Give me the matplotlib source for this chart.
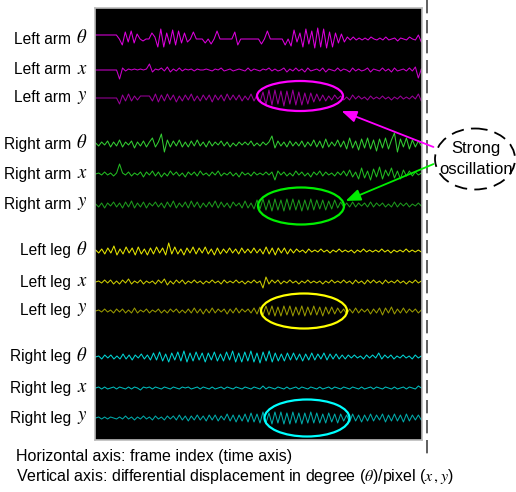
import numpy as np
import matplotlib.pyplot as plt
from matplotlib.patches import Ellipse

plt.rcParams['font.family'] = ['Liberation Sans', 'DejaVu Sans']
plt.rcParams['mathtext.fontset'] = 'stix'

# differential displacement per joint (pixel-ish units)
left_arm_theta = [4, 4, 4, 4, 4, 4, 4, 4, 0, -6, 7, -3, 8, -4, 5, 0, -2, 0, 0, 6, 2, -8, 10, -8, 6, -5, 9, -6, 8, -4,
                  6, -3, 0, 7, 0, 0, 0, -4, 0, -5, 0, 8, 0, 0, 0, 0, 0, 7, -6, 0, 0, 0, 0, 0, 0, 0, -5, 0, 8, 0,
                  0, 0, 0, 0, -6, 0, -7, 9, -3, 6, -8, 10, -5, 8, -9, 11, -8, 10, -9, 7, -8, 6, -4, 5, -3, 2, -1, 2,
                  -1, 1, -1, 1, -1, 2, 0, -1, 1, -1, 2, -1, 0, 1, -2, 1, 0, -1, 2, 0, -1, 4, -3]
left_arm_x = [0, 0, 0, 0, 0, 0, 0, 0, -9, 2, -1, 1, 0, 1, 0, 1, 0, 1, 6, -2, 1, 0, 2, -1, 3, -2, 1, -1, 2, -1,
              1, 0, 1, -1, 1, 0, 0, 1, 0, -1, 1, 0, 2, -1, 0, 1, -1, 0, 1, 0, -1, 2, -1, 1, 0, -1, 1, 0, 2, -1,
              1, -1, 0, 2, -2, 1, -1, 2, -1, 1, -2, 2, -1, 0, 1, -1, 2, -2, 1, 0, -1, 2, -1, 1, 0, -2, 2, -1,
              1, -1, 0, 2, -2, 1, 0, -1, 2, -1, 1, -2, 2, -1, 0, 1, -1, 2, -1, 3, -8, 1]
left_arm_y = [0, 0, 0, 0, 0, 0, 0, 0, -6, 3, -3, 4, -3, 2, -2, 2, 2, 2, 2, -3, 4, -4, 3, -3, 4, -2, 3, -4, 2, -3,
              3, -2, 4, -3, 2, -3, 3, -2, 3, -4, 3, -2, 3, -3, 4, -2, 3, -2, 3, -3, 2, -2, 4, -3, 3, -4, 6, -7,
              8, -7, 8, -6, 7, -8, 7, -6, 8, -7, 6, -7, 5, -6, 5, -4, 4, -3, 3, -3, 2, -2, 3, -1, 2, -2, 1, -2,
              3, -1, 2, -1, 1, -2, 2, -1, 1, -1, 2, -1, 1, -2, 1, -1, 2, -1, 1, -1, 2, -1, 4, -3]
right_arm_theta = [1, -2, 2, -1, 3, -3, 2, -2, 4, -3, 2, -1, 3, -4, 2, -2, 3, -3, 2, 6, -3, 2, 10, -8, 4, -3, 3, -2,
                   4, -3, 2, -3, 3, -2, 4, -2, 2, -3, 3, -2, 2, -1, 3, -2, 2, -3, 1, -2, 2, -1, 2, -1, 3, -2, 1,
                   -2, 2, -1, 2, 8, -4, 3, -2, 2, -3, 3, -2, 2, -2, 3, -3, 2, -2, 4, -3, 3, -4, 5, -3, 2, -2, 4,
                   -3, 3, -5, 6, -4, 3, -6, 5, -4, 6, -5, 4, -7, 5, -4, 6, -5, 4, 11, -8, 5, -3, 6, -5, 4, -3, 3, -2]
right_arm_x = [0, 1, -1, 2, -1, 1, -2, 1, 10, 1, -1, 2, -2, 1, -1, 2, -3, 2, -1, 3, -2, 2, -3, 1, -2, 3, -1, 2,
               -2, 1, -3, 2, -1, 2, -2, 3, -1, 1, -2, 2, -1, 3, -2, 1, -1, 2, -2, 1, -3, 2, -1, 1, -2, 2, -1, 1,
               -1, 2, -1, 2, -6, 3, -1, 2, -2, 1, -2, 3, -1, 2, -2, 1, -3, 2, -1, 3, -2, 2, -1, 1, -2, 2, -1, 3,
               -2, 4, -3, 2, -5, 6, -4, 3, -6, 5, -3, 7, -5, 4, -2, 6, -4, 3, -5, 4, -2, 3, -2, 2, -1, 1]
right_arm_y = [1, -2, 2, -3, 2, -1, 3, -2, 2, -3, 3, -2, 4, -3, 2, -2, 3, -3, 2, -1, 3, -2, 2, -3, 3, -2, 4, -3,
               2, -2, 3, -3, 4, -2, 3, -3, 2, -2, 3, -2, 4, -3, 3, -2, 2, -3, 3, -1, 2, -3, 4, -3, 2, -4, 5, -4,
               6, -5, 5, -6, 6, -5, 5, -6, 6, -5, 6, -5, 5, -6, 5, -5, 6, -5, 5, -4, 5, -5, 4, -4, 5, -3, 3, -2,
               2, -2, 3, -2, 2, -1, 2, -2, 3, -2, 2, -1, 2, -2, 1, -2, 3, -2, 2, -1, 2, -2, 1, -1, 2, -1]
left_leg_theta = [1, -2, 2, -3, 3, -2, 5, -4, 2, -3, 4, -2, 3, -4, 4, -3, 2, -4, 3, -3, 4, -2, 3, -4, 8, -3, 4,
                  -3, 2, -4, 3, -2, 4, -3, 3, -2, 4, -3, 2, -4, 3, -3, 2, -2, 3, -2, 2, -3, 3, -2, 2, -2, 3, -2,
                  2, -3, 4, -3, 3, -4, 3, -2, 3, -3, 2, -2, 2, -1, 1, -2, 2, -1, 1, -1, 2, -1, 1, -2, 1, -1, 2,
                  -1, 1, -1, 1, -2, 1, -1, 2, -1, 1, -1, 1, -1, 2, -1, 1, -2, 1, -1, 1, -1, 2, -1, 1, -1, 1, -1]
left_leg_x = [0, 1, -1, 2, -1, 2, -2, 1, -2, 2, -1, 3, -2, 1, -1, 2, -2, 1, -1, 1, -2, 2, -1, 3, -3, 1, -2, 2,
              -1, 2, -2, 1, -1, 2, -1, 1, -2, 1, -1, 2, -1, 1, -2, 2, -1, 1, -1, 2, -1, 1, -2, 1, -1, 2, -1, 1,
              -6, 5, -2, 2, -1, 2, -2, 1, -1, 2, -1, 1, -2, 1, -1, 2, -1, 1, -1, 1, -2, 1, -1, 2, -1, 1, -1, 2,
              -1, 1, -2, 2, -1, 1, -2, 2, -1, 2, -1, 1, -2, 2, -1, 1, -1, 2, -1, 1, -2, 1, -1, 2, -1, 1]
left_leg_y = [0, 1, -1, 2, -1, 1, -2, 2, -1, 2, -2, 1, -2, 3, -2, 1, -1, 2, -2, 1, -1, 2, -2, 1, -2, 2, -1, 2,
              -2, 1, -2, 2, -2, 3, -2, 2, -3, 2, -2, 3, -2, 2, -1, 2, -3, 2, -2, 3, -2, 2, -1, 2, -2, 3, -3, 4,
              -4, 5, -4, 5, -5, 4, -5, 5, -4, 5, -5, 4, -4, 5, -5, 4, -4, 5, -4, 4, -5, 4, -3, 4, -3, 3, -2, 2,
              -3, 2, -2, 3, -2, 2, -1, 2, -3, 2, -2, 3, -4, 3, -2, 4, -3, 2, -2, 3, -2, 2, -1, 2, -2, 1]
right_leg_theta = [0, 1, -2, 2, -1, 2, -2, 1, -2, 3, -2, 2, -3, 2, -1, 3, -2, 2, -3, 4, -3, 5, -4, 3, -5, 4, -3,
                   5, -4, 6, -5, 4, -4, 5, -3, 4, -5, 4, -3, 5, -4, 3, -4, 5, -3, 6, -5, 4, -5, 5, -4, 6, -5, 4,
                   -6, 5, -4, 6, -5, 4, -4, 3, -4, 4, -3, 4, -3, 3, -4, 3, -3, 4, -3, 3, -2, 4, -3, 3, -2, 3, -2,
                   2, -2, 2, -1, 2, -1, 1, -2, 2, -1, 2, -1, 4, -2, 2, -1, 2, -2, 1, -1, 2, -1, 1, -2, 2, -1, 1]
right_leg_x = [0, 1, -1, 1, -1, 0, 1, -1, 1, 0, -1, 1, -1, 1, 0, -2, 1, 0, 1, -1, 1, 0, -1, 1, 0, -1, 1, 0, -1,
               1, 0, 1, -1, 0, 1, -1, 1, 0, -1, 1, -1, 0, 1, -1, 1, 0, -1, 1, 0, -1, 1, 0, -1, 1, 0, -1, 2, -1,
               1, 0, -1, 1, 0, -1, 1, -1, 0, 1, -1, 1, 0, -1, 1, 0, -1, 1, -1, 0, 1, -1, 1, 0, -1, 1, 0, -1, 1,
               0, -1, 1, -1, 0, 1, -1, 1, 0, -1, 1, 0, -1, 1, -1, 0, 1, -1, 1, 0, -1, 2, 0]
right_leg_y = [0, 1, -1, 1, -1, 1, 0, -1, 1, -1, 2, -1, 1, -2, 1, -1, 2, -1, 1, -2, 2, -1, 1, -2, 2, -1, 2, -2,
               3, -2, 2, -3, 2, -2, 3, -2, 2, -3, 3, -2, 3, -3, 2, -2, 4, -3, 3, -4, 3, -3, 4, -4, 5, -4, 4,
               -5, 6, -5, 5, -6, 6, -5, 6, -6, 5, -6, 6, -5, 5, -6, 5, -5, 6, -5, 5, -5, 4, -5, 5, -4, 4, -5, 4,
               -3, 3, -4, 4, -3, 3, -4, 3, -3, 4, -3, 3, -2, 4, -4, 3, -3, 4, -3, 3, -4, 4, -3, 3, -2, 3, -2]

parts = ["Left arm", "Left arm", "Left arm", "Right arm", "Right arm", "Right arm",
         "Left leg", "Left leg", "Left leg", "Right leg", "Right leg", "Right leg"]
symbols = ["$\\theta$", "$x$", "$y$"] * 4
series = [left_arm_theta, left_arm_x, left_arm_y, right_arm_theta, right_arm_x, right_arm_y,
          left_leg_theta, left_leg_x, left_leg_y, right_leg_theta, right_leg_x, right_leg_y]
colors = ['#dd00dd', '#cc00cc', '#990099', '#33cc33', '#22bb22', '#1d991d',
          '#e6e600', '#cccc00', '#999900', '#00d4d4', '#00bcbc', '#00aaaa']
# vertical placement of each trace (figure pixels from the top)
baselines = [39, 70, 98, 144, 174, 205, 251, 282, 311, 357, 388, 418]

W, H = 516, 492
fig = plt.figure(figsize=(W / 100, H / 100), dpi=100)

ax = fig.add_axes([95 / W, 1 - 440 / H, 327 / W, 432 / H])
ax.set_facecolor('black')
ax.set_xlim(0, 1)
ax.set_ylim(440, 8)
ax.set_xticks([])
ax.set_yticks([])
for sp in ax.spines.values():
    sp.set_color('#bbbbbb')
    sp.set_linewidth(1.2)

for vals, base, c in zip(series, baselines, colors):
    x = np.linspace(0.002, 0.998, len(vals))
    ax.plot(x, base - np.array(vals), color=c, lw=0.75)

# overlay in pixel coordinates for labels and annotations
ov = fig.add_axes([0, 0, 1, 1])
ov.set_xlim(0, W)
ov.set_ylim(H, 0)
ov.axis('off')

for name, sym, base in zip(parts, symbols, baselines):
    ov.text(71, base, name, ha='right', va='center', fontsize=11.2)
    ov.text(82, base - 1, sym, ha='center', va='center', fontsize=13.5)

ellipses = [(300, 96, 86, 30, '#ff00ff'), (301, 206, 86, 37, '#00ee00'),
            (304, 311, 86, 35, '#ffff00'), (307, 418, 85, 37, '#00ffff')]
for cx, cy, w, h, c in ellipses:
    ov.add_patch(Ellipse((cx, cy), w, h, fill=False, ec=c, lw=1.6))

ov.plot([427, 427], [0, 455], color='#444444', lw=1.2, dashes=(8, 4))
ov.add_patch(Ellipse((475, 159), 80, 61, fill=False, ec='black', lw=1.3, ls=(0, (7, 4))))
ov.text(476, 149, "Strong", ha='center', va='center', fontsize=12)
ov.text(476, 169, "oscillation", ha='center', va='center', fontsize=12)

ov.annotate('', xy=(339, 110), xytext=(436, 148),
            arrowprops=dict(arrowstyle='-|>,head_length=0.9,head_width=0.35', color='#ff00ff', lw=1.3))
ov.annotate('', xy=(343, 202), xytext=(436, 163),
            arrowprops=dict(arrowstyle='-|>,head_length=0.9,head_width=0.35', color='#00ee00', lw=1.3))

ov.text(16, 457, "Horizontal axis: frame index (time axis)", ha='left', va='center', fontsize=11.5)
ov.text(16, 477, "Vertical axis: differential displacement in degree ($\\theta$)/pixel ($x\\,,y$)",
        ha='left', va='center', fontsize=11.5)

fig.savefig('out.png', dpi=100)
